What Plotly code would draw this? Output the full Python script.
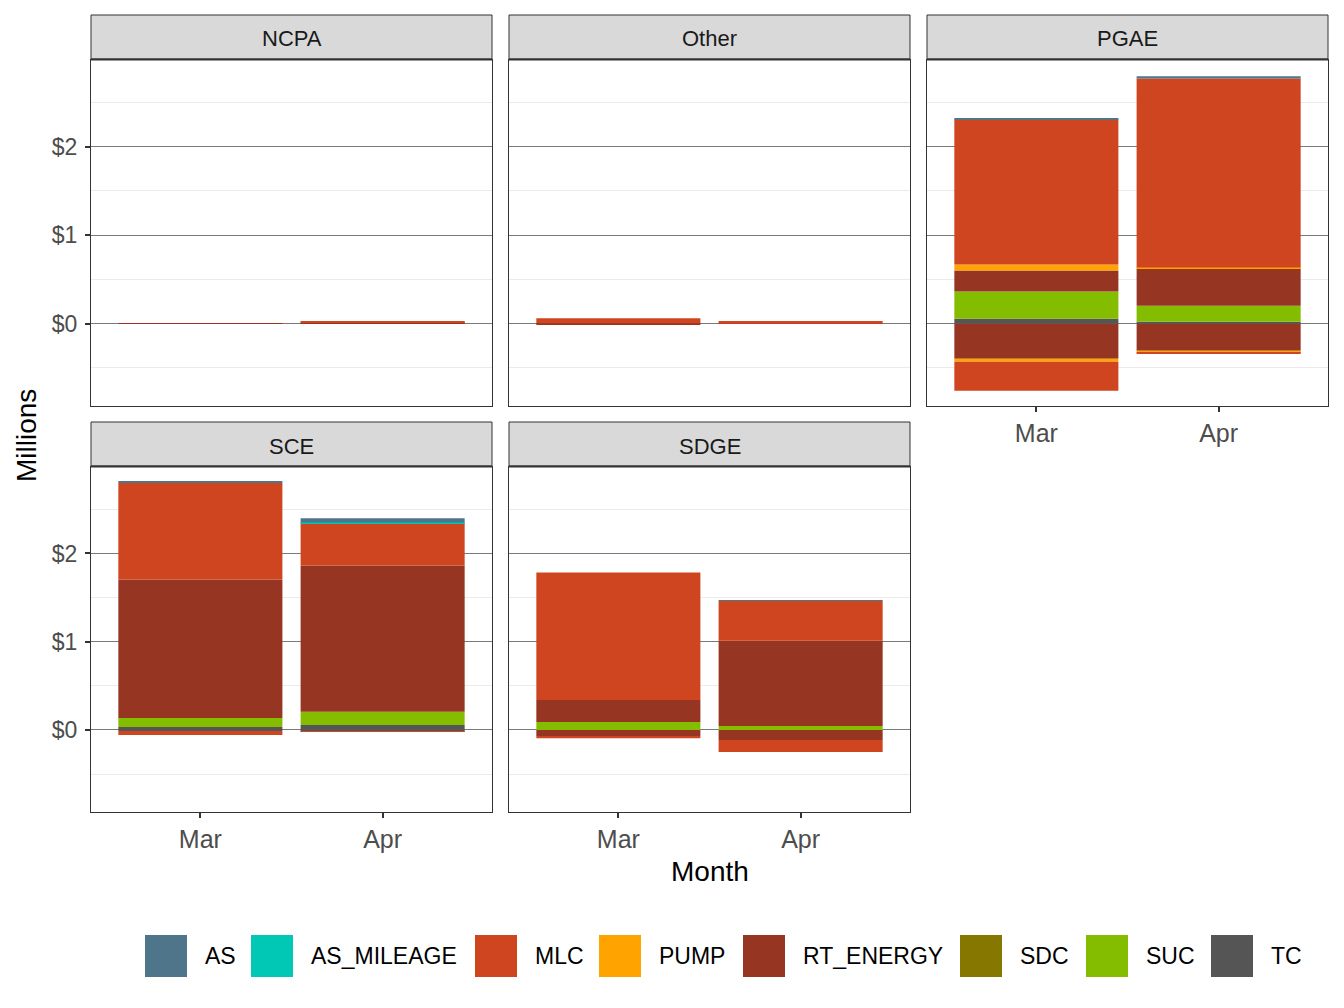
import plotly.graph_objects as go

W, H = 1344, 1008

regions = ["NCPA", "Other", "PGAE", "SCE", "SDGE"]
months = ["Mar", "Apr"]
categories = ["AS", "AS_MILEAGE", "MLC", "PUMP", "RT_ENERGY", "SDC", "SUC", "TC"]
colors = ["#4E7589", "#00C8B4", "#CF4520", "#FFA300", "#963521", "#857700", "#84BD00", "#555555"]

# values in $ millions, order: NCPA Mar, NCPA Apr, Other Mar, Other Apr, PGAE Mar, PGAE Apr,
#                               SCE Mar, SCE Apr, SDGE Mar, SDGE Apr
AS_pos         = [0, 0, 0, 0, 0.010, 0.026, 0.019, 0.046, 0, 0.005]
AS_neg         = [0, 0, 0, 0, 0, 0, 0, 0, 0, 0]
AS_MILEAGE_pos = [0, 0, 0, 0, 0, 0, 0, 0.007, 0, 0]
AS_MILEAGE_neg = [0, 0, 0, 0, 0, 0, 0, 0, 0, 0]
MLC_pos        = [0, 0.020, 0.057, 0.030, 1.640, 2.137, 1.094, 0.481, 1.443, 0.451]
MLC_neg        = [0, 0, 0, 0, -0.328, -0.010, -0.045, -0.006, -0.025, -0.136]
PUMP_pos       = [0, 0, 0, 0, 0.068, 0.011, 0, 0, 0, 0]
PUMP_neg       = [0, 0, 0, 0, -0.034, -0.024, 0, 0, 0, 0]
RT_ENERGY_pos  = [0.004, 0.005, 0.004, 0, 0.237, 0.419, 1.569, 1.659, 0.250, 0.966]
RT_ENERGY_neg  = [0, 0, -0.012, -0.003, -0.396, -0.306, 0, -0.004, -0.070, -0.114]
SDC_pos        = [0, 0, 0, 0, 0, 0, 0, 0, 0, 0]
SDC_neg        = [0, 0, 0, 0, 0, 0, 0, 0, 0, 0]
SUC_pos        = [0, 0.004, 0, 0, 0.306, 0.181, 0.102, 0.148, 0.090, 0.045]
SUC_neg        = [0, 0, 0, 0, 0, 0, 0, 0, 0, 0]
TC_pos         = [0, 0, 0, 0, 0.057, 0.023, 0.034, 0.057, 0, 0]
TC_neg         = [0, 0, 0, 0, 0, 0, -0.012, -0.012, 0, 0]

pos_vals = [AS_pos, AS_MILEAGE_pos, MLC_pos, PUMP_pos, RT_ENERGY_pos, SDC_pos, SUC_pos, TC_pos]
neg_vals = [AS_neg, AS_MILEAGE_neg, MLC_neg, PUMP_neg, RT_ENERGY_neg, SDC_neg, SUC_neg, TC_neg]

y_ticks = [0, 1, 2]
y_ticktext = ["$0", "$1", "$2"]

# ---- layout geometry (pixels) ----
col_x = [(91, 492), (509, 910), (927, 1328)]
row_panel = [(60, 406), (467, 812)]
row_strip = [(15, 59), (422, 466)]
panel_pos = {"NCPA": (0, 0), "Other": (0, 1), "PGAE": (0, 2), "SCE": (1, 0), "SDGE": (1, 1)}


def px(x):
    return x / W


def py(y):
    return 1 - y / H


fig = go.Figure()
layout = dict(
    width=W, height=H, margin=dict(l=0, r=0, t=0, b=0),
    paper_bgcolor="white", plot_bgcolor="white",
    barmode="relative", showlegend=False,
    font=dict(family="Liberation Sans, Arial, sans-serif"),
)
shapes = []
annotations = []

for ri, reg in enumerate(regions):
    n = ri + 1
    xa = "x" if n == 1 else f"x{n}"
    ya = "y" if n == 1 else f"y{n}"
    r, c = panel_pos[reg]
    x0, x1 = col_x[c]
    y0, y1 = row_panel[r]
    # bars: stacking from zero outward, reverse category order
    for ci in range(len(categories) - 1, -1, -1):
        for vals in (pos_vals[ci], neg_vals[ci]):
            fig.add_trace(go.Bar(
                x=months, y=vals[2 * ri:2 * ri + 2], xaxis=xa, yaxis=ya,
                width=0.9, marker=dict(color=colors[ci], line=dict(width=0)),
                name=categories[ci], hoverinfo="x+y+name",
            ))
    show_xlab = reg in ("PGAE", "SCE", "SDGE")
    show_ylab = c == 0
    layout["xaxis" if n == 1 else f"xaxis{n}"] = dict(
        domain=[px(x0), px(x1)], anchor=ya, type="category",
        categoryorder="array", categoryarray=months, range=[-0.6, 1.6],
        showgrid=False, zeroline=False, showline=True, mirror=True,
        linecolor="#333333", linewidth=1,
        ticks="outside" if show_xlab else "", ticklen=5, tickwidth=2, tickcolor="#333333",
        showticklabels=show_xlab, tickfont=dict(size=25, color="#4D4D4D"),
        fixedrange=True,
    )
    layout["yaxis" if n == 1 else f"yaxis{n}"] = dict(
        domain=[py(y1), py(y0)], anchor=xa, range=[-0.93, 2.98],
        tickmode="array", tickvals=y_ticks, ticktext=y_ticktext,
        showgrid=True, gridcolor="#7A7A7A", gridwidth=1,
        minor=dict(tickmode="array", tickvals=[-0.5, 0.5, 1.5, 2.5], showgrid=True,
                   gridcolor="#EBEBEB", gridwidth=1, ticks=""),
        zeroline=False, showline=True, mirror=True, linecolor="#333333", linewidth=1,
        ticks="outside" if show_ylab else "", ticklen=5, tickwidth=2, tickcolor="#333333",
        showticklabels=show_ylab, tickfont=dict(size=23, color="#4D4D4D"),
        ticklabelstandoff=3,
        fixedrange=True,
    )
    # strip
    s0, s1 = row_strip[r]
    shapes.append(dict(type="rect", xref="paper", yref="paper",
                       x0=px(x0), x1=px(x1), y0=py(s1), y1=py(s0),
                       fillcolor="#D9D9D9", line=dict(color="#333333", width=1)))
    shapes.append(dict(type="line", xref="paper", yref="paper",
                       x0=px(x0), x1=px(x1), y0=py(s1 + 0.5), y1=py(s1 + 0.5),
                       line=dict(color="#333333", width=2)))
    annotations.append(dict(text=reg, xref="paper", yref="paper",
                            x=px((x0 + x1) / 2), y=py((s0 + s1) / 2 + 2),
                            showarrow=False, xanchor="center", yanchor="middle",
                            font=dict(size=22, color="#1A1A1A")))

# axis titles
annotations.append(dict(text="Millions", xref="paper", yref="paper", x=px(26), y=py(436),
                        textangle=-90, showarrow=False, xanchor="center", yanchor="middle",
                        font=dict(size=28, color="black")))
annotations.append(dict(text="Month", xref="paper", yref="paper", x=px(710), y=py(871),
                        showarrow=False, xanchor="center", yanchor="middle",
                        font=dict(size=28, color="black")))

# legend (drawn as keys + labels)
key_x = [145, 251, 475, 599, 743, 960, 1086, 1211]
for cat, col, kx in zip(categories, colors, key_x):
    shapes.append(dict(type="rect", xref="paper", yref="paper",
                       x0=px(kx), x1=px(kx + 42), y0=py(977), y1=py(935),
                       fillcolor=col, line=dict(width=0)))
    annotations.append(dict(text=cat, xref="paper", yref="paper", x=px(kx + 58), y=py(956),
                            showarrow=False, xanchor="left", yanchor="middle",
                            font=dict(size=23, color="black")))

layout["shapes"] = shapes
layout["annotations"] = annotations
fig.update_layout(**layout)
fig.write_html("out.html")
